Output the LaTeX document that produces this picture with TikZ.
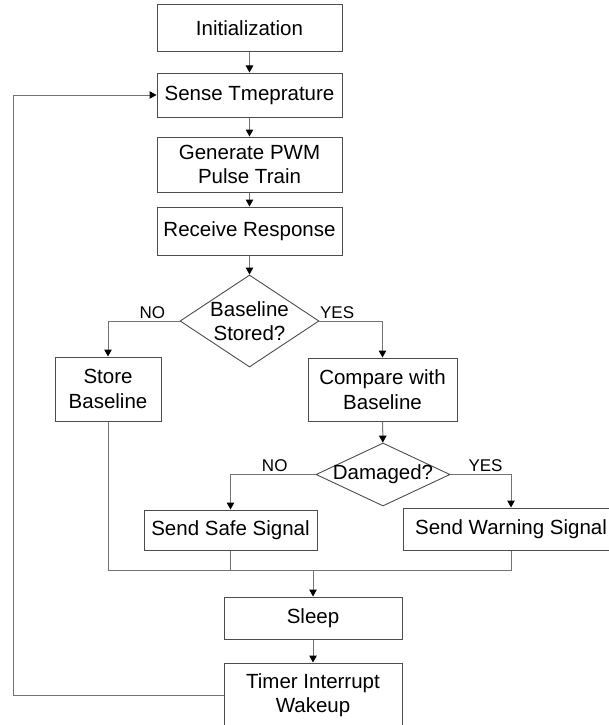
\documentclass[tikz,border=0pt]{standalone}
\usepackage{fontspec}
\setmainfont{Liberation Sans}
\usetikzlibrary{arrows.meta,shapes.geometric}

\begin{document}
\begin{tikzpicture}[x=1pt,y=-1pt,
    font=\fontsize{20.5}{24.5}\selectfont,
    stepbox/.style={draw=black!70, line width=1pt, align=center, inner sep=0pt},
    decide/.style={draw=black!70, line width=0.9pt, diamond, inner sep=0pt},
    line/.style={draw=black!55, line width=1pt},
    arrow/.style={line, -{Triangle[length=7pt,width=7.5pt,color=black,fill=black]}},
    answer/.style={font=\fontsize{17}{20}\selectfont, inner sep=2pt}]

\useasboundingbox (0,0) rectangle (608,725);

% -----------------------------
% Main column
% -----------------------------
\node[stepbox, minimum width=185pt, minimum height=47pt] (init)  at (249.5,28.5) {Initialization};
\node[stepbox, minimum width=185pt, minimum height=44pt] (sense) at (249.5,95)   {Sense Tmeprature};
\node[stepbox, minimum width=185pt, minimum height=55pt] (gen)   at (249.5,164.5) {Generate PWM\\Pulse Train};
\node[stepbox, minimum width=185pt, minimum height=48pt] (recv)  at (249.5,231)  {Receive Response};

% first decision
\node[decide, minimum width=139pt, minimum height=92pt,
      label={[align=center]center:Baseline\\Stored?}] (stored) at (249.5,321) {};

\node[stepbox, minimum width=106pt, minimum height=64pt] (store) at (108,389)   {Store\\Baseline};
\node[stepbox, minimum width=149pt, minimum height=63pt] (comp)  at (382.5,389.5) {Compare with\\Baseline};

% second decision
\node[decide, minimum width=134pt, minimum height=63pt,
      label={center:Damaged?}] (damaged) at (383,474.5) {};

\node[stepbox, minimum width=173pt, minimum height=40pt] (safe) at (230.5,530) {Send Safe Signal};
\node[stepbox, minimum width=216pt, minimum height=42pt] (warn) at (511,529)   {Send Warning Signal};

\node[stepbox, minimum width=178pt, minimum height=42pt] (sleep) at (313,618) {Sleep};
\node[stepbox, minimum width=178pt, minimum height=64pt] (timer) at (313,695) {Timer Interrupt\\Wakeup};

\coordinate (mrg)  at (313,570.5);
\coordinate (back) at (13,0);

% -----------------------------
% Connectors
% -----------------------------
\draw[arrow] (init) -- (sense);
\draw[arrow] (sense) -- (gen);
\draw[arrow] (gen) -- (recv);
\draw[arrow] (recv) -- (stored);

\draw[arrow] (stored.west) -| node[answer, pos=0.19, above] {NO} (store.north);
\draw[arrow] (stored.east) -| node[answer, pos=0.14, above] {YES} (comp.north);
\draw[arrow] (comp) -- (damaged);

\draw[arrow] (damaged.west) -| node[answer, pos=0.24, above] {NO} (safe.north);
\draw[arrow] (damaged.east) -| node[answer, pos=0.29, above] {YES} (warn.north);

% join of the three branches
\draw[line] (store.south) |- (mrg);
\draw[line] (safe.south) |- (mrg);
\draw[line] (warn.south) |- (mrg);
\draw[arrow] (mrg) -- (sleep.north);

\draw[arrow] (sleep) -- (timer);

% loop back to sensing
\draw[arrow] (timer.west) -- (timer.west -| back) |- (sense.west);

\end{tikzpicture}
\end{document}
